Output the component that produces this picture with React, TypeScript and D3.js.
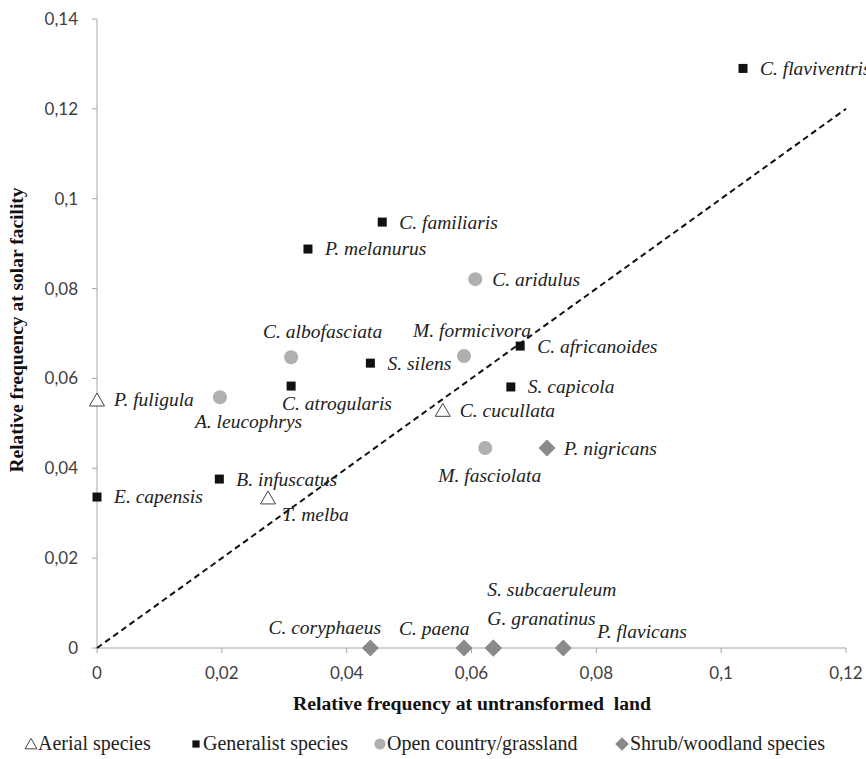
import React from "react";
import * as d3 from "d3";

const speciesNames = [
  "C. flaviventris", "C. familiaris", "P. melanurus", "C. aridulus", "C. albofasciata",
  "M. formicivora", "C. africanoides", "S. silens", "S. capicola", "C. atrogularis",
  "P. fuligula", "A. leucophrys", "C. cucullata", "M. fasciolata", "P. nigricans",
  "B. infuscatus", "E. capensis", "T. melba", "C. coryphaeus", "C. paena",
  "S. subcaeruleum", "G. granatinus", "P. flavicans",
];
const guilds = [
  "Generalist", "Generalist", "Generalist", "Open", "Open",
  "Open", "Generalist", "Generalist", "Generalist", "Generalist",
  "Aerial", "Open", "Aerial", "Open", "Shrub",
  "Generalist", "Generalist", "Aerial", "Shrub", "Shrub",
  "Shrub", "Shrub", "Shrub",
];
const untransformed = [
  0.1035, 0.0457, 0.0338, 0.0606, 0.0311,
  0.0588, 0.0678, 0.0438, 0.0663, 0.0311,
  0.0, 0.0197, 0.0554, 0.0622, 0.0721,
  0.0196, 0.0, 0.0274, 0.0438, 0.0588,
  0.0635, 0.0635, 0.0747,
];
const solar = [
  0.129, 0.0948, 0.0888, 0.0821, 0.0647,
  0.065, 0.0672, 0.0634, 0.0581, 0.0583,
  0.0552, 0.0558, 0.0529, 0.0445, 0.0445,
  0.0376, 0.0336, 0.0334, 0, 0,
  0, 0, 0,
];
const xTicks = [0, 0.02, 0.04, 0.06, 0.08, 0.1, 0.12];
const yTicks = [0, 0.02, 0.04, 0.06, 0.08, 0.1, 0.12, 0.14];
const legendLabels = ["Aerial species", "Generalist species", "Open country/grassland", "Shrub/woodland species"];
const legendGuilds = ["Aerial", "Generalist", "Open", "Shrub"];

// label placement (layout only): offset of label start / vertical centre from the marker
const labelOffsets: Record<string, [number, number]> = {
  "C. albofasciata": [-28, -26],
  "M. formicivora": [-51, -25],
  "C. atrogularis": [-9, 17],
  "A. leucophrys": [-25, 24],
  "M. fasciolata": [-47, 27],
  "T. melba": [14, 17],
  "C. coryphaeus": [-102, -20],
  "C. paena": [-65, -19],
  "G. granatinus": [-6, -29],
  "S. subcaeruleum": [-6, -58],
  "P. flavicans": [34, -16],
};

const fmt = (v: number) => (v === 0 ? "0" : String(+v.toFixed(2)).replace(".", ","));

function Marker({ guild, x, y, s = 1 }: { guild: string; x: number; y: number; s?: number }) {
  if (guild === "Generalist")
    return <rect x={x - 4.5 * s} y={y - 4.5 * s} width={9 * s} height={9 * s} fill="#111" />;
  if (guild === "Open") return <circle cx={x} cy={y} r={7 * s} fill="#b0b0b0" />;
  if (guild === "Aerial")
    return (
      <path d={`M${x},${y - 7 * s}L${x + 7.5 * s},${y + 6 * s}L${x - 7.5 * s},${y + 6 * s}Z`}
        fill="#fff" stroke="#444" strokeWidth={1} />
    );
  return <path d={`M${x},${y - 8.5 * s}L${x + 8.5 * s},${y}L${x},${y + 8.5 * s}L${x - 8.5 * s},${y}Z`} fill="#8a8a8a" />;
}

export default function App() {
  const W = 866, H = 759;
  const x = d3.scaleLinear().domain([0, 0.12]).range([97, 846]);
  const y = d3.scaleLinear().domain([0, 0.14]).range([648, 19]);
  const axisColor = "#a8a8a8";
  const tickFont = "Lato, 'Open Sans', sans-serif";
  const serif = "'Liberation Serif', 'DejaVu Serif', serif";
  const legendMarkX = [31, 196, 380, 622];
  const legendTextX = [38, 203, 387, 630];

  return (
    <svg width={W} height={H} style={{ position: "absolute", left: 0, top: 0, background: "#fff" }}>
      {/* axes */}
      <line x1={x(0)} x2={x(0)} y1={y(0)} y2={y(0.14)} stroke={axisColor} />
      <line x1={x(0)} x2={x(0.12)} y1={y(0)} y2={y(0)} stroke={axisColor} />
      {yTicks.map((t) => (
        <g key={"y" + t}>
          <line x1={x(0) - 5} x2={x(0)} y1={y(t)} y2={y(t)} stroke={axisColor} />
          <text x={78} y={y(t)} dy="0.35em" textAnchor="end" fontFamily={tickFont} fontSize={17} fill="#404040">
            {fmt(t)}
          </text>
        </g>
      ))}
      {xTicks.map((t) => (
        <g key={"x" + t}>
          <line x1={x(t)} x2={x(t)} y1={y(0)} y2={y(0) + 5} stroke={axisColor} />
          <text x={x(t)} y={673} dy="0.35em" textAnchor="middle" fontFamily={tickFont} fontSize={17} fill="#404040">
            {fmt(t)}
          </text>
        </g>
      ))}
      {/* 1:1 line */}
      <line x1={x(0)} y1={y(0)} x2={x(0.12)} y2={y(0.12)} stroke="#111" strokeWidth={2} strokeDasharray="6,4" />
      {/* points */}
      {speciesNames.map((n, i) => (
        <Marker key={n} guild={guilds[i]} x={x(untransformed[i])} y={y(solar[i])} />
      ))}
      {speciesNames.map((n, i) => {
        const off = labelOffsets[n] || [17, 0];
        return (
          <text key={"l" + n} x={x(untransformed[i]) + off[0]} y={y(solar[i]) + off[1]} dy="0.33em"
            fontFamily={serif} fontStyle="italic" fontSize={19.5} fill="#222">
            {n}
          </text>
        );
      })}
      {/* axis titles */}
      <text x={472} y={710} textAnchor="middle" fontFamily={serif} fontWeight="bold" fontSize={19.7} fill="#111">
        {"Relative frequency at untransformed\u00A0 land"}
      </text>
      <text transform={`translate(23,330) rotate(-90)`} textAnchor="middle" fontFamily={serif} fontWeight="bold" fontSize={19.5} fill="#111">
        Relative frequency at solar facility
      </text>
      {/* legend */}
      {legendLabels.map((l, i) => (
        <g key={l}>
          <Marker guild={legendGuilds[i]} x={legendMarkX[i]} y={744} s={0.8} />
          <text x={legendTextX[i]} y={750} fontFamily={serif} fontSize={20} fill="#222">
            {l}
          </text>
        </g>
      ))}
    </svg>
  );
}
